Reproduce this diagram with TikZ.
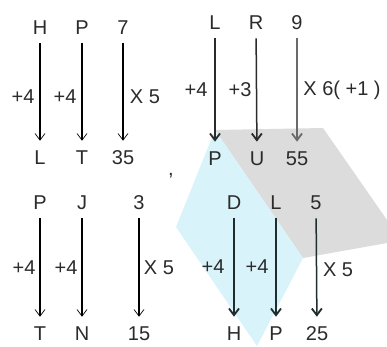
\documentclass[tikz,border=0pt]{standalone}
\usepackage{fontspec}
\setmainfont{Liberation Sans}
\usetikzlibrary{arrows.meta,positioning,calc}
\definecolor{ink}{HTML}{2B2B2B}
\definecolor{inkgray}{HTML}{6A6A6A}
\definecolor{inkteal}{HTML}{1E2E2E}
\definecolor{cyanbg}{HTML}{D8F4FA}
\definecolor{graybg}{HTML}{DCDCDC}
\tikzset{
  letter/.style={text=ink,inner sep=0pt,text height=8.6pt,text depth=0pt,
                 font=\fontsize{12}{14}\selectfont},
  oplabel/.style={text=ink,inner sep=0pt,font=\fontsize{12}{14}\selectfont},
  thinarr/.style={-{Straight Barb[length=4pt,width=6pt,line width=0.4pt]},
                  line width=0.75pt,draw=black,shorten <=5.3pt,shorten >=5.3pt},
  boldarr/.style={-{Straight Barb[length=4pt,width=6pt,line width=1.1pt]},
                  line width=0.9pt,draw=ink,shorten <=5.3pt,shorten >=5.3pt},
  grayarr/.style={boldarr,draw=inkgray}
}
\begin{document}
\begin{tikzpicture}[x=0.6pt,y=-0.6pt]
    \path[use as bounding box,fill=white] (0,0) rectangle (387,346);
    % watermark shapes
    \fill[graybg] (215,130) -- (323,128) -- (387,220) -- (387,243) -- (303,258) -- cycle;
    \fill[cyanbg] (215,130) -- (303,258) -- (257,346) -- (176,227) -- cycle;
    % top left
    \node[letter] (a1) at (40,27) {H};
    \node[letter] (a2) at (82,27) {P};
    \node[letter] (a3) at (123,27) {7};
    \node[letter] (b1) at (40,157) {L};
    \node[letter] (b2) at (82,157) {T};
    \node[letter] (b3) at (123,157) {35};
    \draw[thinarr] (a1) -- (b1);
    \draw[thinarr] (a2) -- (b2);
    \draw[thinarr] (a3) -- (b3);
    \node[oplabel] (pa1) at (23,97) {+4};
    \node[oplabel] (pa2) at (65,97) {+4};
    \node[oplabel] (pa3) at (145,97) {X 5};
    % top right
    \node[letter] (c1) at (215,22) {L};
    \node[letter] (c2) at (256,22) {R};
    \node[letter] (c3) at (297,22) {9};
    \node[letter] (d1) at (215,158) {P};
    \node[letter] (d2) at (257,158) {U};
    \node[letter] (d3) at (297,158) {55};
    \draw[boldarr] (c1) -- (d1);
    \draw[boldarr] (c2) -- (d2);
    \draw[grayarr] (c3) -- (d3);
    \node[oplabel] (pc1) at (196,90) {+4};
    \node[oplabel] (pc2) at (240,90) {+3};
    \node[oplabel] (pc3) at (342,90) {X 6( +1 )};
    \node[text=ink,font=\fontsize{12}{14}\selectfont] (comma) at (171,176) {,};
    % bottom left
    \node[letter] (e1) at (40,202) {P};
    \node[letter] (e2) at (82,202) {J};
    \node[letter] (e3) at (139,202) {3};
    \node[letter] (f1) at (40,333) {T};
    \node[letter] (f2) at (82,333) {N};
    \node[letter] (f3) at (139,333) {15};
    \draw[thinarr] (e1) -- (f1);
    \draw[thinarr] (e2) -- (f2);
    \draw[thinarr] (e3) -- (f3);
    \node[oplabel] (pe1) at (24,268) {+4};
    \node[oplabel] (pe2) at (66,268) {+4};
    \node[oplabel] (pe3) at (159,268) {X 5};
    % bottom right
    \node[letter] (g1) at (234,202) {D};
    \node[letter] (g2) at (276,202) {L};
    \node[letter] (g3) at (316,202) {5};
    \node[letter] (h1) at (234,333) {H};
    \node[letter] (h2) at (276,333) {P};
    \node[letter] (h3) at (317,333) {25};
    \draw[boldarr,draw=inkteal] (g1) -- (h1);
    \draw[boldarr,draw=inkteal] (g2) -- (h2);
    \draw[boldarr,draw=inkteal] (g3) -- (h3);
    \node[oplabel] (pg1) at (213,267) {+4};
    \node[oplabel] (pg2) at (257,267) {+4};
    \node[oplabel] (pg3) at (338,270) {X 5};
  \end{tikzpicture}
\end{document}
